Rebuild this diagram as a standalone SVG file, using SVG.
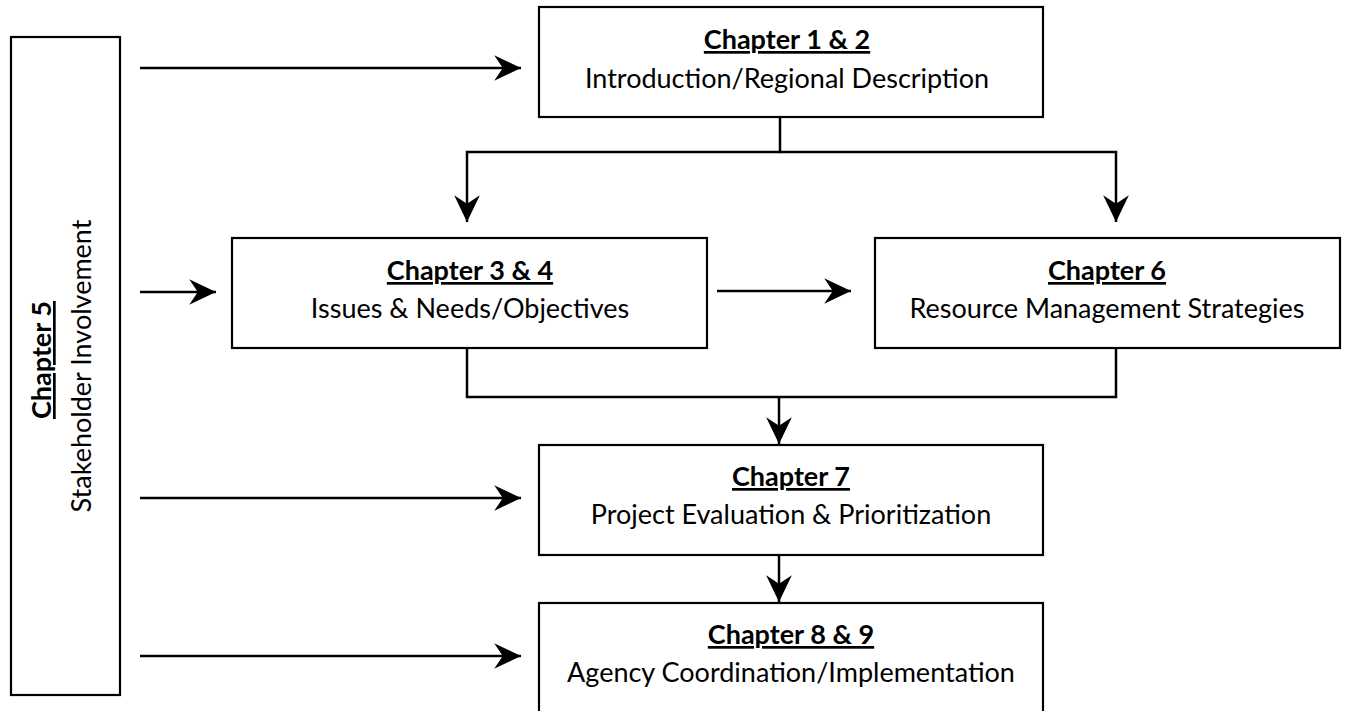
<svg xmlns="http://www.w3.org/2000/svg" width="1345" height="711" viewBox="0 0 1345 711">
<style>
.box{fill:#fff;stroke:#000;stroke-width:2.2}
.t{font-family:Lato,"Liberation Sans",sans-serif;font-size:27px;fill:#000;text-anchor:middle}
.h{font-weight:bold;text-decoration:underline}
.c{fill:none;stroke:#000;stroke-width:2.5}
</style>
<defs>
<marker id="ah" markerUnits="userSpaceOnUse" markerWidth="30" markerHeight="30" viewBox="-26 -13 28 26" refX="0" refY="0" orient="auto">
<path d="M0,0 L-25,-12 L-17,0 L-25,12 Z" fill="#000"/>
</marker>
</defs>
<rect width="1345" height="711" fill="#fff"/>
<g id="connectors">
<line class="c" x1="140" y1="68" x2="521" y2="68" marker-end="url(#ah)"/>
<line class="c" x1="140" y1="292" x2="216" y2="292" marker-end="url(#ah)"/>
<line class="c" x1="140" y1="498" x2="521" y2="498" marker-end="url(#ah)"/>
<line class="c" x1="140" y1="656" x2="521" y2="656" marker-end="url(#ah)"/>
<line class="c" x1="717" y1="291" x2="851" y2="291" marker-end="url(#ah)"/>
<polyline class="c" points="780,117 780,152 467,152 467,222" marker-end="url(#ah)"/>
<polyline class="c" points="780,152 1116,152 1116,222" marker-end="url(#ah)"/>
<polyline class="c" points="467,348 467,397 1116,397 1116,348"/>
<line class="c" x1="779" y1="397" x2="779" y2="444" marker-end="url(#ah)"/>
<line class="c" x1="779" y1="555" x2="779" y2="602" marker-end="url(#ah)"/>
</g>
<g id="ch5">
<rect class="box" x="11" y="37" width="109" height="658"/>
<text class="t h" transform="translate(51,360) rotate(-90)">Chapter 5</text>
<text class="t" transform="translate(91,366) rotate(-90)">Stakeholder Involvement</text>
</g>
<g id="ch1">
<rect class="box" x="539" y="7" width="504" height="110"/>
<text class="t h" x="787" y="49">Chapter 1 &amp; 2</text>
<text class="t" x="787" y="88">Introduction/Regional Description</text>
</g>
<g id="ch3">
<rect class="box" x="232" y="238" width="475" height="110"/>
<text class="t h" x="470" y="280">Chapter 3 &amp; 4</text>
<text class="t" x="470" y="318">Issues &amp; Needs/Objectives</text>
</g>
<g id="ch6">
<rect class="box" x="875" y="238" width="465" height="110"/>
<text class="t h" x="1107" y="280">Chapter 6</text>
<text class="t" x="1107" y="318">Resource Management Strategies</text>
</g>
<g id="ch7">
<rect class="box" x="539" y="445" width="504" height="110"/>
<text class="t h" x="791" y="486">Chapter 7</text>
<text class="t" x="791" y="524">Project Evaluation &amp; Prioritization</text>
</g>
<g id="ch8">
<rect class="box" x="539" y="603" width="504" height="120"/>
<text class="t h" x="791" y="644">Chapter 8 &amp; 9</text>
<text class="t" x="791" y="682">Agency Coordination/Implementation</text>
</g>
</svg>
